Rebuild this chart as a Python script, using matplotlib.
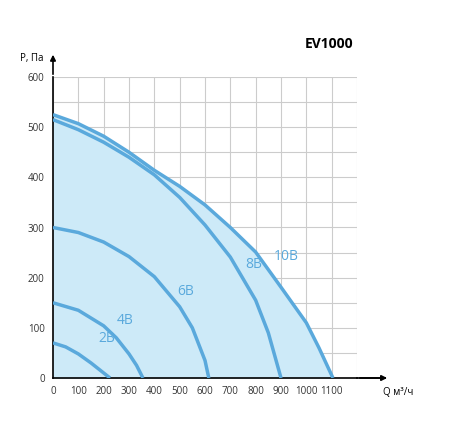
import matplotlib
matplotlib.use("Agg")
import matplotlib.pyplot as plt

q10 = [0, 100, 200, 300, 400, 500, 600, 700, 800, 900, 1000, 1050, 1105]
p10 = [525, 507, 482, 450, 414, 382, 345, 300, 251, 181, 110, 60, 0]
q8 = [0, 100, 200, 300, 400, 500, 600, 700, 800, 850, 900]
p8 = [515, 495, 470, 440, 405, 360, 305, 241, 155, 90, 0]
q6 = [0, 100, 200, 300, 400, 500, 550, 600, 615]
p6 = [300, 290, 271, 242, 202, 142, 100, 35, 0]
q4 = [0, 100, 200, 250, 300, 330, 355]
p4 = [150, 135, 104, 80, 48, 25, 0]
q2 = [0, 50, 100, 150, 200, 225]
p2 = [70, 62, 48, 30, 10, 0]
labels = ["10В", "8В", "6В", "4В", "2В"]
label_pos = [(870, 235), (760, 220), (490, 165), (250, 108), (180, 72)]

line_c = "#5aa9dc"
fig = plt.figure(figsize=(4.5, 4.23), dpi=100)
ax = fig.add_axes([53/450, 45/423, (357-53)/450, (378-77)/423 * 1.0])
ax.set_xlim(0, 1200)
ax.set_ylim(0, 600)
ax.fill_between(q10, p10, color="#cdeaf8", zorder=1)
for q, p in [(q10, p10), (q8, p8), (q6, p6), (q4, p4), (q2, p2)]:
    ax.plot(q, p, color=line_c, lw=2.5, zorder=3, solid_capstyle="butt")
for t, (x, y) in zip(labels, label_pos):
    ax.text(x, y, t, color=line_c, fontsize=10, family="Open Sans", zorder=4)
ax.set_xticks(range(0, 1201, 100))
ax.set_xticklabels([str(v) for v in range(0, 1101, 100)] + [""])
ax.set_yticks(range(0, 601, 100))
ax.set_yticks(range(0, 601, 50), minor=True)
ax.grid(True, which="both", color="#cccccc", lw=0.8, zorder=0)
ax.set_axisbelow(True)
for s in ["top", "right"]:
    ax.spines[s].set_visible(False)
for s in ["left", "bottom"]:
    ax.spines[s].set_linewidth(1.2)
ax.tick_params(length=0, labelsize=7, colors="#333333", pad=6, which="both")
for t in ax.get_xticklabels() + ax.get_yticklabels():
    t.set_family("Open Sans")
ax.annotate("", xy=(1330, 0), xytext=(1200, 0), annotation_clip=False,
            arrowprops=dict(arrowstyle="-|>", color="black", lw=1.2, mutation_scale=8))
ax.annotate("", xy=(0, 650), xytext=(0, 600), annotation_clip=False,
            arrowprops=dict(arrowstyle="-|>", color="black", lw=1.2, mutation_scale=8))
ax.plot([1200, 1310], [0, 0], color="black", lw=1.2, clip_on=False)
fig.text(20/450, 1 - 58/423, "P, Па", fontsize=7, family="Open Sans", va="center")
fig.text(383/450, 1 - 392/423, "Q м³/ч", fontsize=7, family="Open Sans", va="center")
fig.text(305/450, 1 - 44/423, "EV1000", fontsize=10, fontweight="bold", family="Open Sans", va="center")
fig.savefig("out.png", dpi=100)
